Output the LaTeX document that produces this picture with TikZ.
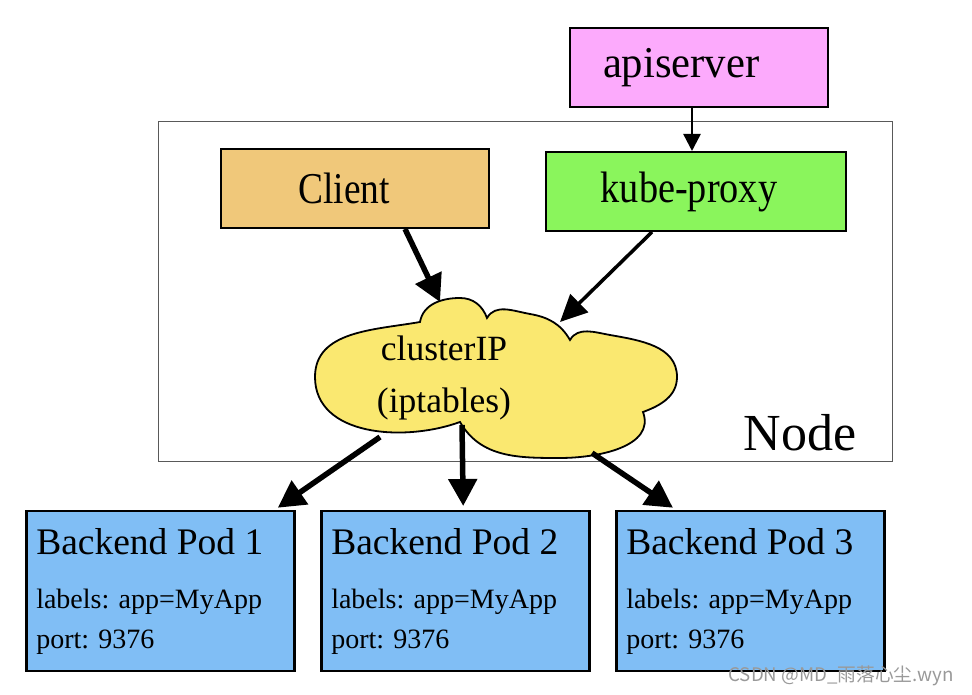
\documentclass[tikz,border=0pt]{standalone}
\usepackage{fontspec}
\setmainfont{Liberation Serif}
\newfontfamily\cjk{Noto Sans CJK SC}
\usetikzlibrary{shapes,arrows,arrows.meta,calc}
\definecolor{apicol}{RGB}{252,170,252}
\definecolor{clientcol}{RGB}{240,200,122}
\definecolor{proxycol}{RGB}{138,245,92}
\definecolor{cloudcol}{RGB}{250,232,112}
\definecolor{podcol}{RGB}{128,190,245}
\tikzstyle{box}=[draw, line width=2pt, minimum height=79pt, inner sep=0pt, font=\fontsize{44}{46}\selectfont]
\tikzstyle{pod}=[draw, line width=2.5pt, fill=podcol, anchor=north west, text width=248pt, minimum height=160pt, inner xsep=10pt, inner ysep=0pt, align=left]
\tikzstyle{bigarrow}=[line width=5.5pt, -{Triangle[length=27pt,width=28pt]}]
\tikzstyle{midarrow}=[line width=3.5pt, -{Triangle[length=27pt,width=25pt]}]
\tikzstyle{smallarrow}=[line width=2.5pt, -{Triangle[length=17pt,width=17pt]}]

\begin{document}
\begin{tikzpicture}[x=1pt, y=1pt]
  \useasboundingbox (0,0) rectangle (972,695);

  % node frame
  \draw[gray!70!black, line width=1pt] (158,233) rectangle (892,573);
  \node[font=\fontsize{52}{54}\selectfont] (nodelabel) at (800,262) {Node};

  % boxes
  \node[box, fill=apicol, minimum width=258pt, text width=192pt, inner xsep=33pt, align=left] (apiserver) at (699,627) {\scalebox{0.97}[1]{apiserver}};
  \node[box, fill=clientcol, minimum width=268pt] (client) at (355,506.5) {\scalebox{0.85}[1]{Client}\kern22pt};
  \node[box, fill=proxycol, minimum width=300pt] (kubeproxy) at (696,503.5) {\scalebox{0.87}[1]{kube-proxy}\kern14pt};

  % cloud
  \draw[line width=1.8pt, fill=cloudcol] (460,273)
    to[out=200,in=270] (315,318)
    to[out=90,in=190] (420,373)
    to[out=80,in=180] (460,397)
    to[out=0,in=110] (487,377)
    to[out=60,in=170] (530,381)
    to[out=-10,in=120] (570,355)
    to[out=60,in=170] (610,360)
    to[out=-10,in=90] (677,318)
    to[out=270,in=20] (643,283)
    to[out=290,in=0] (560,237)
    to[out=180,in=-60] (460,273) -- cycle;
  \node[align=center, font=\fontsize{35.5}{52}\selectfont] (cluster) at (444,317) {clusterIP\\(iptables)};
  \coordinate (cin1) at (440,393);
  \coordinate (cin2) at (560,373);
  \coordinate (cout1) at (380,258);
  \coordinate (cout2) at (462,270);
  \coordinate (cout3) at (592,242);

  % pods
  \foreach \i/\x in {1/25,2/320,3/615}
    \node[pod] (pod\i) at (\x,185) {\spaceskip=0pt\xspaceskip=0pt\fontsize{37.5}{40}\selectfont Backend Pod \i\\[15pt]\fontsize{28}{39}\selectfont labels: app=MyApp\\[14pt]port: 9376};

  % arrows
  \draw[smallarrow] ([xshift=-7pt]apiserver.south) -- ([xshift=-4pt]kubeproxy.north);
  \draw[bigarrow] ([xshift=50pt]client.south) -- (cin1);
  \draw[midarrow] ([xshift=-44pt]kubeproxy.south) -- (cin2);
  \draw[bigarrow, shorten >=4pt] (cout1) -- ([xshift=-21pt]pod1.north east);
  \draw[bigarrow, shorten >=4pt] (cout2) -- ([xshift=8pt]pod2.north);
  \draw[bigarrow, shorten >=4pt] (cout3) -- ([xshift=-74pt]pod3.north);

  % watermark
  \node[anchor=east, text=gray!80, font=\cjk\fontsize{18.7}{20}\selectfont] (mark) at (957,19) {CSDN @MD\_雨落心尘.wyn};
\end{tikzpicture}
\end{document}
